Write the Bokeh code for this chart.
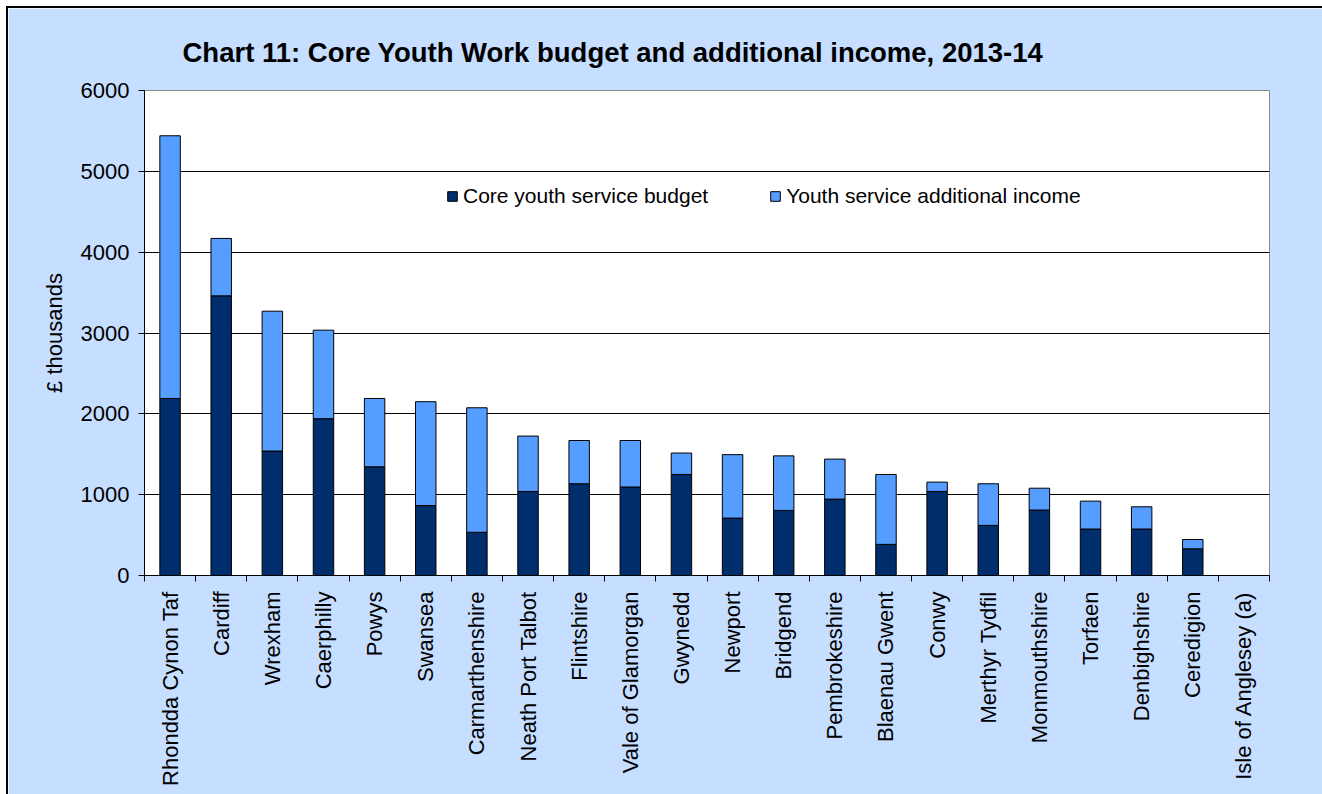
import numpy as np
from bokeh.plotting import figure
from bokeh.models import ColumnDataSource, FixedTicker, Legend
from bokeh.embed import file_html
from bokeh.resources import INLINE

authorities = ["Rhondda Cynon Taf", "Cardiff", "Wrexham", "Caerphilly", "Powys", "Swansea",
               "Carmarthenshire", "Neath Port Talbot", "Flintshire", "Vale of Glamorgan", "Gwynedd",
               "Newport", "Bridgend", "Pembrokeshire", "Blaenau Gwent", "Conwy", "Merthyr Tydfil",
               "Monmouthshire", "Torfaen", "Denbighshire", "Ceredigion", "Isle of Anglesey (a)"]
core_budget = [2190, 3460, 1540, 1940, 1345, 865, 535, 1040, 1135, 1095, 1250,
               710, 805, 945, 385, 1040, 620, 810, 575, 575, 330, 0]
additional_income = [3250, 710, 1730, 1095, 845, 1285, 1540, 685, 535, 575, 265,
                     785, 675, 495, 865, 115, 515, 270, 345, 275, 115, 0]
y_ticks = [0, 1000, 2000, 3000, 4000, 5000, 6000]
series_names = ["Core youth service budget", "Youth service additional income"]

FONT = "Liberation Sans"
DARK = "#002D6B"
LIGHT = "#559DFF"
BG = "#C6DEFF"

n = len(authorities)
centers = [i + 0.5 for i in range(n)]
bounds = list(range(n + 1))

source = ColumnDataSource(dict(x=centers, core=core_budget, add=additional_income))

p = figure(width=1314, height=786, output_backend="svg", toolbar_location=None,
           x_range=(0, n), y_range=(y_ticks[0], y_ticks[-1]),
           min_border_left=136, min_border_right=53, min_border_top=82, min_border_bottom=219,
           border_fill_color=BG, background_fill_color="white",
           outline_line_color="#888888", outline_line_width=1,
           styles={"margin-left": "8px", "margin-top": "8px",
                   "outline": "2px solid #000000"})

p.title.text = "Chart 11: Core Youth Work budget and additional income, 2013-14"
p.title.text_font = FONT
p.title.text_font_size = "27.5px"
p.title.text_font_style = "bold"
p.title.text_color = "black"
p.title.align = "left"
p.title.offset = 38
p.title.standoff = 45

renderers = p.vbar_stack(["core", "add"], x="x", width=0.4, source=source,
                         fill_color=[DARK, LIGHT], line_color="black", line_width=1)

legend = Legend(items=[(series_names[0], [renderers[0]]), (series_names[1], [renderers[1]])],
                orientation="horizontal", location=(302, 367))
legend.background_fill_alpha = 0
legend.border_line_alpha = 0
legend.padding = 0
legend.margin = 0
legend.spacing = 61
legend.glyph_width = 12
legend.glyph_height = 12
legend.label_standoff = 5
legend.label_text_font = FONT
legend.label_text_font_size = "21px"
legend.label_text_color = "black"
p.add_layout(legend, "center")

# y axis
p.yaxis.ticker = FixedTicker(ticks=y_ticks)
p.yaxis.major_tick_out = 6
p.yaxis.major_tick_in = 0
p.yaxis.minor_tick_out = 0
p.yaxis.minor_tick_in = 0
p.yaxis.major_label_standoff = 9
p.yaxis.major_label_text_font = FONT
p.yaxis.major_label_text_font_size = "22px"
p.yaxis.major_label_text_color = "black"
p.yaxis.axis_line_color = "black"
p.yaxis.major_tick_line_color = "black"
p.yaxis.axis_label = "£ thousands"
p.yaxis.axis_label_text_font = FONT
p.yaxis.axis_label_text_font_size = "22px"
p.yaxis.axis_label_text_font_style = "normal"
p.yaxis.axis_label_text_color = "black"
p.yaxis.axis_label_standoff = 11

# x axis: labels at centers, ticks at boundaries
p.xaxis.ticker = FixedTicker(ticks=centers, minor_ticks=bounds)
p.xaxis.major_label_overrides = {c: name for c, name in zip(centers, authorities)}
p.xaxis.major_tick_out = 0
p.xaxis.major_tick_in = 0
p.xaxis.minor_tick_out = 6
p.xaxis.minor_tick_in = 0
p.xaxis.minor_tick_line_color = "black"
p.xaxis.major_label_orientation = np.pi / 2
p.xaxis.major_label_standoff = 10
p.xaxis.major_label_text_font = FONT
p.xaxis.major_label_text_font_size = "22px"
p.xaxis.major_label_text_color = "black"
p.xaxis.axis_line_color = "black"

p.xgrid.grid_line_color = None
p.ygrid.ticker = FixedTicker(ticks=y_ticks[1:-1])
p.ygrid.grid_line_color = "black"
p.ygrid.grid_line_width = 1

open("out.html", "w").write(file_html(p, INLINE))
